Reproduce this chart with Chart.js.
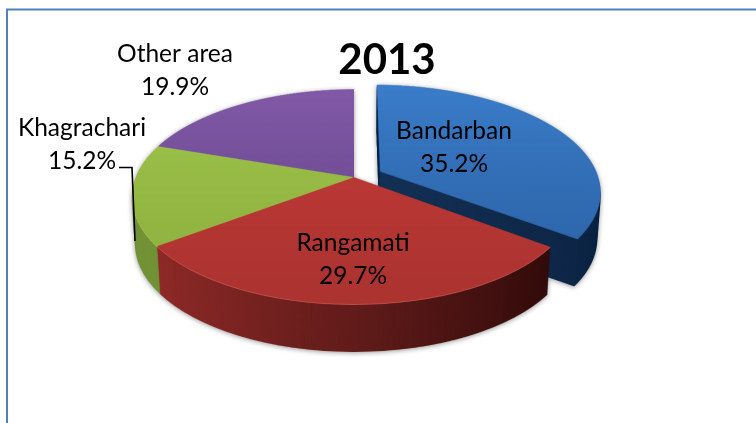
<!DOCTYPE html>
<html>
<head>
<meta charset="utf-8">
<title>2013</title>
<script src="https://cdn.jsdelivr.net/npm/chart.js@4"></script>
<style>
  html, body { margin: 0; padding: 0; background: #fff; overflow: hidden; }
  canvas { display: block; }
</style>
</head>
<body>
<canvas id="pie" width="756" height="423"></canvas>
<script>
const title = '2013';
const areas = ['Bandarban', 'Rangamati', 'Khagrachari', 'Other area'];
const shares = [35.2, 29.7, 15.2, 19.9];
const pulledOut = [120, 0, 0, 0];

const faceTop = ['#3b7dca', '#cb3d3a', '#a0c84c', '#8259a8'];
const faceBottom = ['#2b62a5', '#ab3330', '#8dae3f', '#654688'];
const rimColors = ['#2a5c99', '#c9554f', '#a9c95e', '#8259a8'];
const sideLeft = ['#1a3e68', '#9a302d', '#76963a', '#4d3568'];
const sideRight = ['#0f2746', '#2e0c0b', '#5f7b2c', '#4d3568'];
const drawOrder = [0, 3, 2, 1];

const labelSpots = [[454, 131], [353, 243], [82, 128], [175, 54]];
const labelGap = 33;

// tilt of the pie disc: a plane seen in perspective, applied row by row
const TILT_X = 0.9834, TILT_Y = 0.468, TILT_K = 0.000817;
const DEPTH = 47;
const RADIUS = 222;
const HALF = 260;   // half size of the flat sprite
const SRC = 2, DST = 2;  // supersampling of sprite and of final layer

function makeCanvas(w, h) {
  const c = document.createElement('canvas');
  c.width = w;
  c.height = h;
  return c;
}

const spritePlugin = {
  id: 'tiltedPie',
  beforeDraw(chart) {
    const ctx = chart.ctx;
    ctx.save();
    ctx.fillStyle = '#fff';
    ctx.fillRect(0, 0, chart.width, chart.height);
    ctx.strokeStyle = '#4f81bd';
    ctx.lineWidth = 2;
    ctx.beginPath();
    ctx.moveTo(7, chart.height);
    ctx.lineTo(7, 9.5);
    ctx.lineTo(chart.width, 9.5);
    ctx.stroke();
    ctx.restore();
  },
  beforeDatasetsDraw(chart) {
    const arcs = chart.getDatasetMeta(0).data;
    const cx = arcs[0].x, cy = arcs[0].y;
    const layer = makeCanvas(chart.width * DST, chart.height * DST);
    const lctx = layer.getContext('2d');
    const sprite = makeCanvas(HALF * 2 * SRC, HALF * 2 * SRC);
    const sctx = sprite.getContext('2d');
    const warped = makeCanvas(layer.width, layer.height);
    const wctx = warped.getContext('2d');

    // paint one arc flat, using the chart's own element, then warp it
    function warpArc(arc, fill) {
      const saved = arc.options;
      const savedRadius = arc.outerRadius;
      // ArcElement grows an offset slice a little; keep it at the pie's radius
      const grow = (saved.offset || 0) / 4 * (1 - Math.sin(Math.min(Math.PI, arc.circumference)));
      sctx.setTransform(1, 0, 0, 1, 0, 0);
      sctx.clearRect(0, 0, sprite.width, sprite.height);
      sctx.setTransform(SRC, 0, 0, SRC, (HALF - cx) * SRC, (HALF - cy) * SRC);
      arc.options = { ...saved, backgroundColor: fill(sctx), borderWidth: 0 };
      arc.outerRadius = savedRadius - grow;
      arc.draw(sctx);
      arc.outerRadius = savedRadius;
      arc.options = saved;

      wctx.clearRect(0, 0, warped.width, warped.height);
      for (let row = -110 * DST; row < 140 * DST; row++) {
        const y0 = row / DST, y1 = (row + 1) / DST;
        const v0 = y0 / (TILT_Y + TILT_K * y0);
        const v1 = y1 / (TILT_Y + TILT_K * y1);
        if (v0 < -HALF || v1 > HALF) continue;
        const sx = TILT_X / (1 - TILT_K * (v0 + v1) / 2);
        wctx.drawImage(sprite,
          0, (HALF + v0) * SRC, HALF * 2 * SRC, (v1 - v0) * SRC,
          (cx - HALF * sx) * DST, (cy + y0) * DST, HALF * 2 * sx * DST, 1);
      }
    }

    drawOrder.forEach(i => {
      const arc = arcs[i];
      // side wall: the same shape stacked downward, narrowing a little
      warpArc(arc, c => {
        const g = c.createLinearGradient(cx - RADIUS, 0, cx + RADIUS - 20, 0);
        g.addColorStop(0, sideLeft[i]);
        g.addColorStop(1, sideRight[i]);
        return g;
      });
      for (let d = DEPTH * DST; d > 0; d--) {
        const s = 1 - 0.015 * d / (DEPTH * DST);
        lctx.setTransform(s, 0, 0, 1, cx * DST * (1 - s), d);
        lctx.drawImage(warped, 0, 0);
      }
      lctx.setTransform(1, 0, 0, 1, 0, 0);

      warpArc(arc, () => rimColors[i]);
      lctx.drawImage(warped, 0, 0);

      warpArc(arc, c => {
        const g = c.createLinearGradient(0, cy - RADIUS, 0, cy + RADIUS);
        g.addColorStop(0, faceTop[i]);
        g.addColorStop(1, faceBottom[i]);
        return g;
      });
      lctx.drawImage(warped, 0, -0.8 * DST);
    });

    const ctx = chart.ctx;
    ctx.save();
    ctx.shadowColor = 'rgba(0,0,0,0.4)';
    ctx.shadowBlur = 5;
    ctx.shadowOffsetY = 1;
    ctx.drawImage(layer, 0, 0, chart.width, chart.height);
    ctx.restore();
    return false;
  },
  afterDraw(chart) {
    const ctx = chart.ctx;
    ctx.save();
    // leader line for the small slice label
    ctx.strokeStyle = '#000';
    ctx.lineWidth = 1.6;
    ctx.beginPath();
    ctx.moveTo(119, 167.5);
    ctx.lineTo(132, 167.5);
    ctx.lineTo(135, 241);
    ctx.stroke();

    ctx.fillStyle = '#000';
    ctx.textAlign = 'center';
    ctx.textBaseline = 'middle';
    ctx.font = '24.5px Lato';
    areas.forEach((name, i) => {
      const [x, y] = labelSpots[i];
      ctx.fillText(name, x, y);
      ctx.fillText(shares[i].toFixed(1) + '%', x, y + labelGap);
    });
    ctx.font = 'bold 42px Lato';
    ctx.fillText(title, 387, 60);
    ctx.restore();
  }
};

new Chart(document.getElementById('pie'), {
  type: 'pie',
  data: {
    labels: areas,
    datasets: [{
      data: shares,
      offset: pulledOut,
      radius: RADIUS,
      backgroundColor: faceTop,
      borderWidth: 0
    }]
  },
  options: {
    responsive: false,
    animation: false,
    layout: { padding: { right: 48, bottom: 67 } },
    plugins: {
      legend: { display: false },
      tooltip: { enabled: false }
    }
  },
  plugins: [spritePlugin]
});
</script>
</body>
</html>
